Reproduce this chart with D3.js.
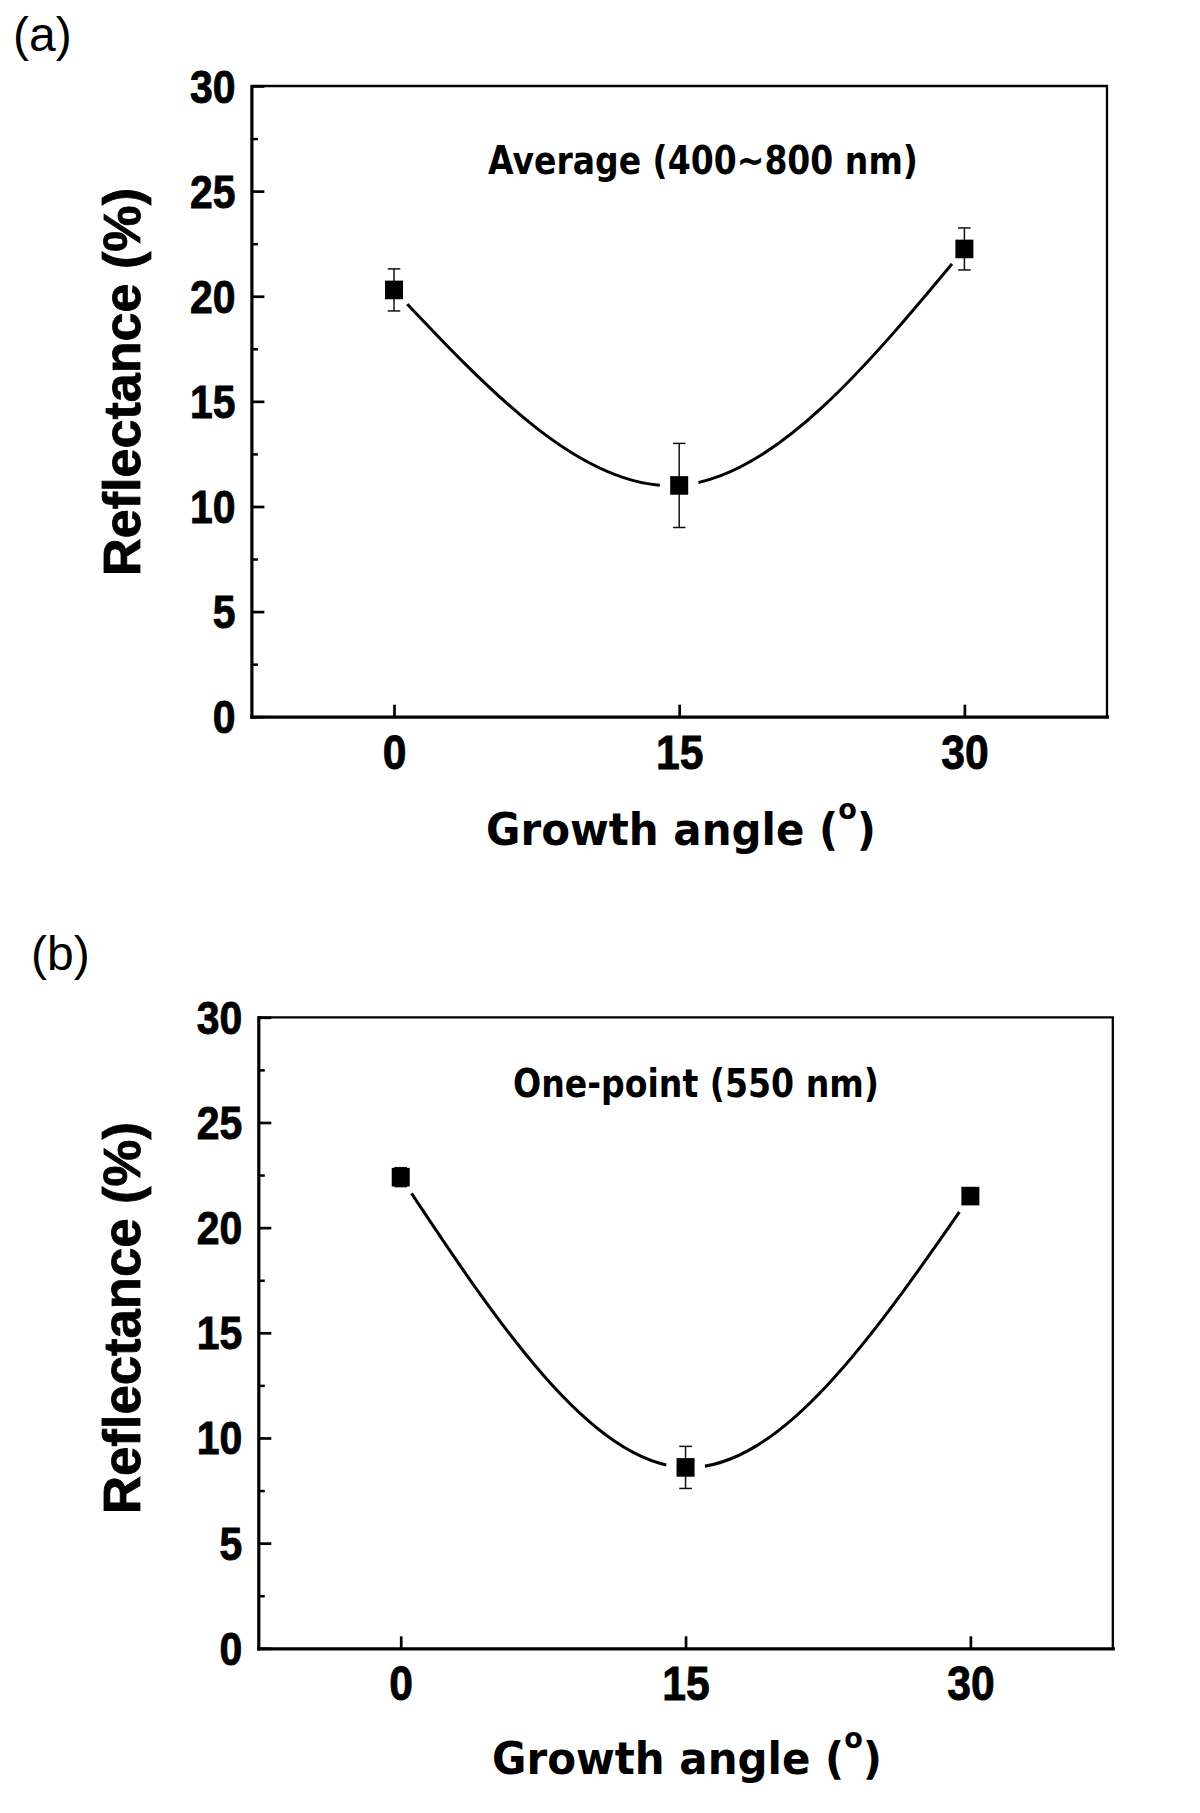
<!DOCTYPE html>
<html>
<head>
<meta charset="utf-8">
<script src="https://cdn.jsdelivr.net/npm/d3@7"></script>
<style>
  body { margin: 0; background: #fff; }
  svg { display: block; background: #fff; }
</style>
</head>
<body>
<div id="chart"></div>
<script>
// data
const growthAngles = [0, 15, 30];
const averageReflectance = [20.3, 11.0, 22.25];
const averageError = [1.0, 2.0, 1.0];
const onePointReflectance = [22.4, 8.6, 21.5];
const onePointError = [0.45, 1.0, 0.2];

const xTickValues = [0, 15, 30];
const yTickValues = [0, 5, 10, 15, 20, 25, 30];
const yMinorTickValues = [2.5, 7.5, 12.5, 17.5, 22.5, 27.5];
const xDomain = [-7.5, 37.5];
const yDomain = [0, 30];

const panelLetters = ['(a)', '(b)'];
const panelNotes = ['Average (400~800 nm)', 'One-point (550 nm)'];
const yTitleText = 'Reflectance (%)';
const xTitleText = 'Growth angle (';

const width = 1200;
const height = 1813;
const boldSans = "'Liberation Sans', Arial, sans-serif";
const wideBold = "'DejaVu Sans', Verdana, sans-serif";
const condense = 0.87; // tick labels in the figure are a narrow, heavy bold face

// frame + text positions for each panel
const layouts = [
  {left: 251.4, right: 1107, top: 86, bottom: 716.7,
    letter: [13, 51], note: [703, 174, 430], yTitle: [140, 382, 388], xTitle: [681, 845, 390]},
  {left: 258.3, right: 1112.8, top: 1017.3, bottom: 1648.3,
    letter: [31, 970], note: [696, 1097, 366], yTitle: [140, 1318, 392], xTitle: [687, 1774, 390]}
];

const series = [
  growthAngles.map((a, i) => ({angle: a, value: averageReflectance[i], err: averageError[i]})),
  growthAngles.map((a, i) => ({angle: a, value: onePointReflectance[i], err: onePointError[i]}))
];

const svg = d3.select('#chart')
  .append('svg')
  .attr('width', width)
  .attr('height', height);

const defs = svg.append('defs');

// squeeze a text group horizontally so it spans the wanted width
const fitGroup = (g, textNode, cx, cy, target, rotate) => {
  const w = textNode.getBBox().width;
  const k = target / w;
  g.attr('transform', 'translate(' + cx + ',' + cy + ')' + (rotate ? ' rotate(-90)' : '') + ' scale(' + k + ',1)');
};

const drawPanel = (L, idx) => {
  const data = series[idx];

  const x = d3.scaleLinear().domain(xDomain).range([L.left, L.right]);
  const y = d3.scaleLinear().domain(yDomain).range([L.bottom, L.top]);

  const panel = svg.append('g').attr('class', 'panel-' + idx);

  // top and right frame
  panel.append('path')
    .attr('d', 'M' + L.left + ',' + L.top + 'H' + L.right + 'V' + L.bottom)
    .attr('fill', 'none')
    .attr('stroke', '#000')
    .attr('stroke-width', 2.3);

  // minor y ticks
  const gMinor = panel.append('g')
    .attr('transform', 'translate(' + L.left + ',0)')
    .call(d3.axisLeft(y).tickValues(yMinorTickValues).tickSize(-6.5).tickFormat(''));
  gMinor.select('.domain').remove();
  gMinor.selectAll('.tick line').attr('stroke-width', 2.5);

  // left axis
  const gy = panel.append('g')
    .attr('transform', 'translate(' + L.left + ',0)')
    .call(d3.axisLeft(y).tickValues(yTickValues).tickSizeInner(-13).tickSizeOuter(0).tickPadding(16));
  gy.attr('font-family', boldSans).attr('font-size', 47).attr('font-weight', 'bold');
  gy.select('.domain').attr('stroke-width', 3.2).attr('stroke-linecap', 'square');
  gy.selectAll('.tick line').attr('stroke-width', 2.7);
  gy.selectAll('.tick text')
    .attr('dy', null)
    .attr('x', -16 / condense)
    .attr('y', 16)
    .attr('stroke', 'currentColor')
    .attr('stroke-width', 0.9)
    .attr('transform', 'scale(' + condense + ',1)');

  // bottom axis
  const gx = panel.append('g')
    .attr('transform', 'translate(0,' + L.bottom + ')')
    .call(d3.axisBottom(x).tickValues(xTickValues).tickSizeInner(-12).tickSizeOuter(0).tickPadding(0));
  gx.attr('font-family', boldSans).attr('font-size', 49).attr('font-weight', 'bold');
  gx.select('.domain').attr('stroke-width', 3.2).attr('stroke-linecap', 'square');
  gx.selectAll('.tick line').attr('stroke-width', 2.7);
  gx.selectAll('.tick text')
    .attr('dy', null)
    .attr('y', 52)
    .attr('stroke', 'currentColor')
    .attr('stroke-width', 0.9)
    .attr('transform', 'scale(' + condense + ',1)');

  // curve with a gap around each symbol
  const maskId = 'gap-mask-' + idx;
  const mask = defs.append('mask')
    .attr('id', maskId)
    .attr('maskUnits', 'userSpaceOnUse')
    .attr('x', 0).attr('y', 0).attr('width', width).attr('height', height);
  mask.append('rect')
    .attr('width', width).attr('height', height).attr('fill', '#fff');
  mask.selectAll('circle')
    .data(data)
    .enter()
    .append('circle')
    .attr('cx', d => x(d.angle))
    .attr('cy', d => y(d.value))
    .attr('r', 19.5)
    .attr('fill', '#000');

  const line = d3.line()
    .curve(d3.curveNatural)
    .x(d => x(d.angle))
    .y(d => y(d.value));

  panel.append('path')
    .datum(data)
    .attr('d', line)
    .attr('fill', 'none')
    .attr('stroke', '#000')
    .attr('stroke-width', 3)
    .attr('mask', 'url(#' + maskId + ')');

  // error bars
  const bars = panel.append('g')
    .attr('stroke', '#111')
    .attr('stroke-width', 1.5)
    .selectAll('g')
    .data(data)
    .enter()
    .append('g');
  bars.append('line')
    .attr('x1', d => x(d.angle)).attr('x2', d => x(d.angle))
    .attr('y1', d => y(d.value - d.err)).attr('y2', d => y(d.value + d.err));
  bars.append('line')
    .attr('x1', d => x(d.angle) - 6.3).attr('x2', d => x(d.angle) + 6.3)
    .attr('y1', d => y(d.value + d.err)).attr('y2', d => y(d.value + d.err));
  bars.append('line')
    .attr('x1', d => x(d.angle) - 6.3).attr('x2', d => x(d.angle) + 6.3)
    .attr('y1', d => y(d.value - d.err)).attr('y2', d => y(d.value - d.err));

  // square symbols
  panel.append('g')
    .selectAll('rect')
    .data(data)
    .enter()
    .append('rect')
    .attr('x', d => x(d.angle) - 9)
    .attr('y', d => y(d.value) - 9.3)
    .attr('width', 18)
    .attr('height', 18.6)
    .attr('fill', '#000');

  // panel letter
  panel.append('text')
    .attr('x', L.letter[0])
    .attr('y', L.letter[1])
    .attr('font-family', "'Liberation Sans', Arial, sans-serif")
    .attr('font-size', 48)
    .text(panelLetters[idx]);

  // annotation inside the frame
  const gNote = panel.append('g');
  const noteText = gNote.append('text')
    .attr('text-anchor', 'middle')
    .attr('font-family', wideBold)
    .attr('font-weight', 'bold')
    .attr('font-size', 39)
    .text(panelNotes[idx]);
  fitGroup(gNote, noteText.node(), L.note[0], L.note[1], L.note[2], false);

  // y title
  const gYTitle = panel.append('g');
  const yTitle = gYTitle.append('text')
    .attr('text-anchor', 'middle')
    .attr('font-family', boldSans)
    .attr('font-weight', 'bold')
    .attr('font-size', 51)
    .attr('stroke', '#000')
    .attr('stroke-width', 0.8)
    .text(yTitleText);
  fitGroup(gYTitle, yTitle.node(), L.yTitle[0], L.yTitle[1], L.yTitle[2], true);

  // x title with superscript degree "o"
  const gXTitle = panel.append('g');
  const xTitle = gXTitle.append('text')
    .attr('text-anchor', 'middle')
    .attr('font-family', wideBold)
    .attr('font-weight', 'bold')
    .attr('font-size', 45);
  xTitle.append('tspan').text(xTitleText);
  xTitle.append('tspan').attr('font-size', 29).attr('dy', -26).text('o');
  xTitle.append('tspan').attr('dy', 26).text(')');
  fitGroup(gXTitle, xTitle.node(), L.xTitle[0], L.xTitle[1], L.xTitle[2], false);
};

layouts.forEach(drawPanel);
</script>
</body>
</html>
